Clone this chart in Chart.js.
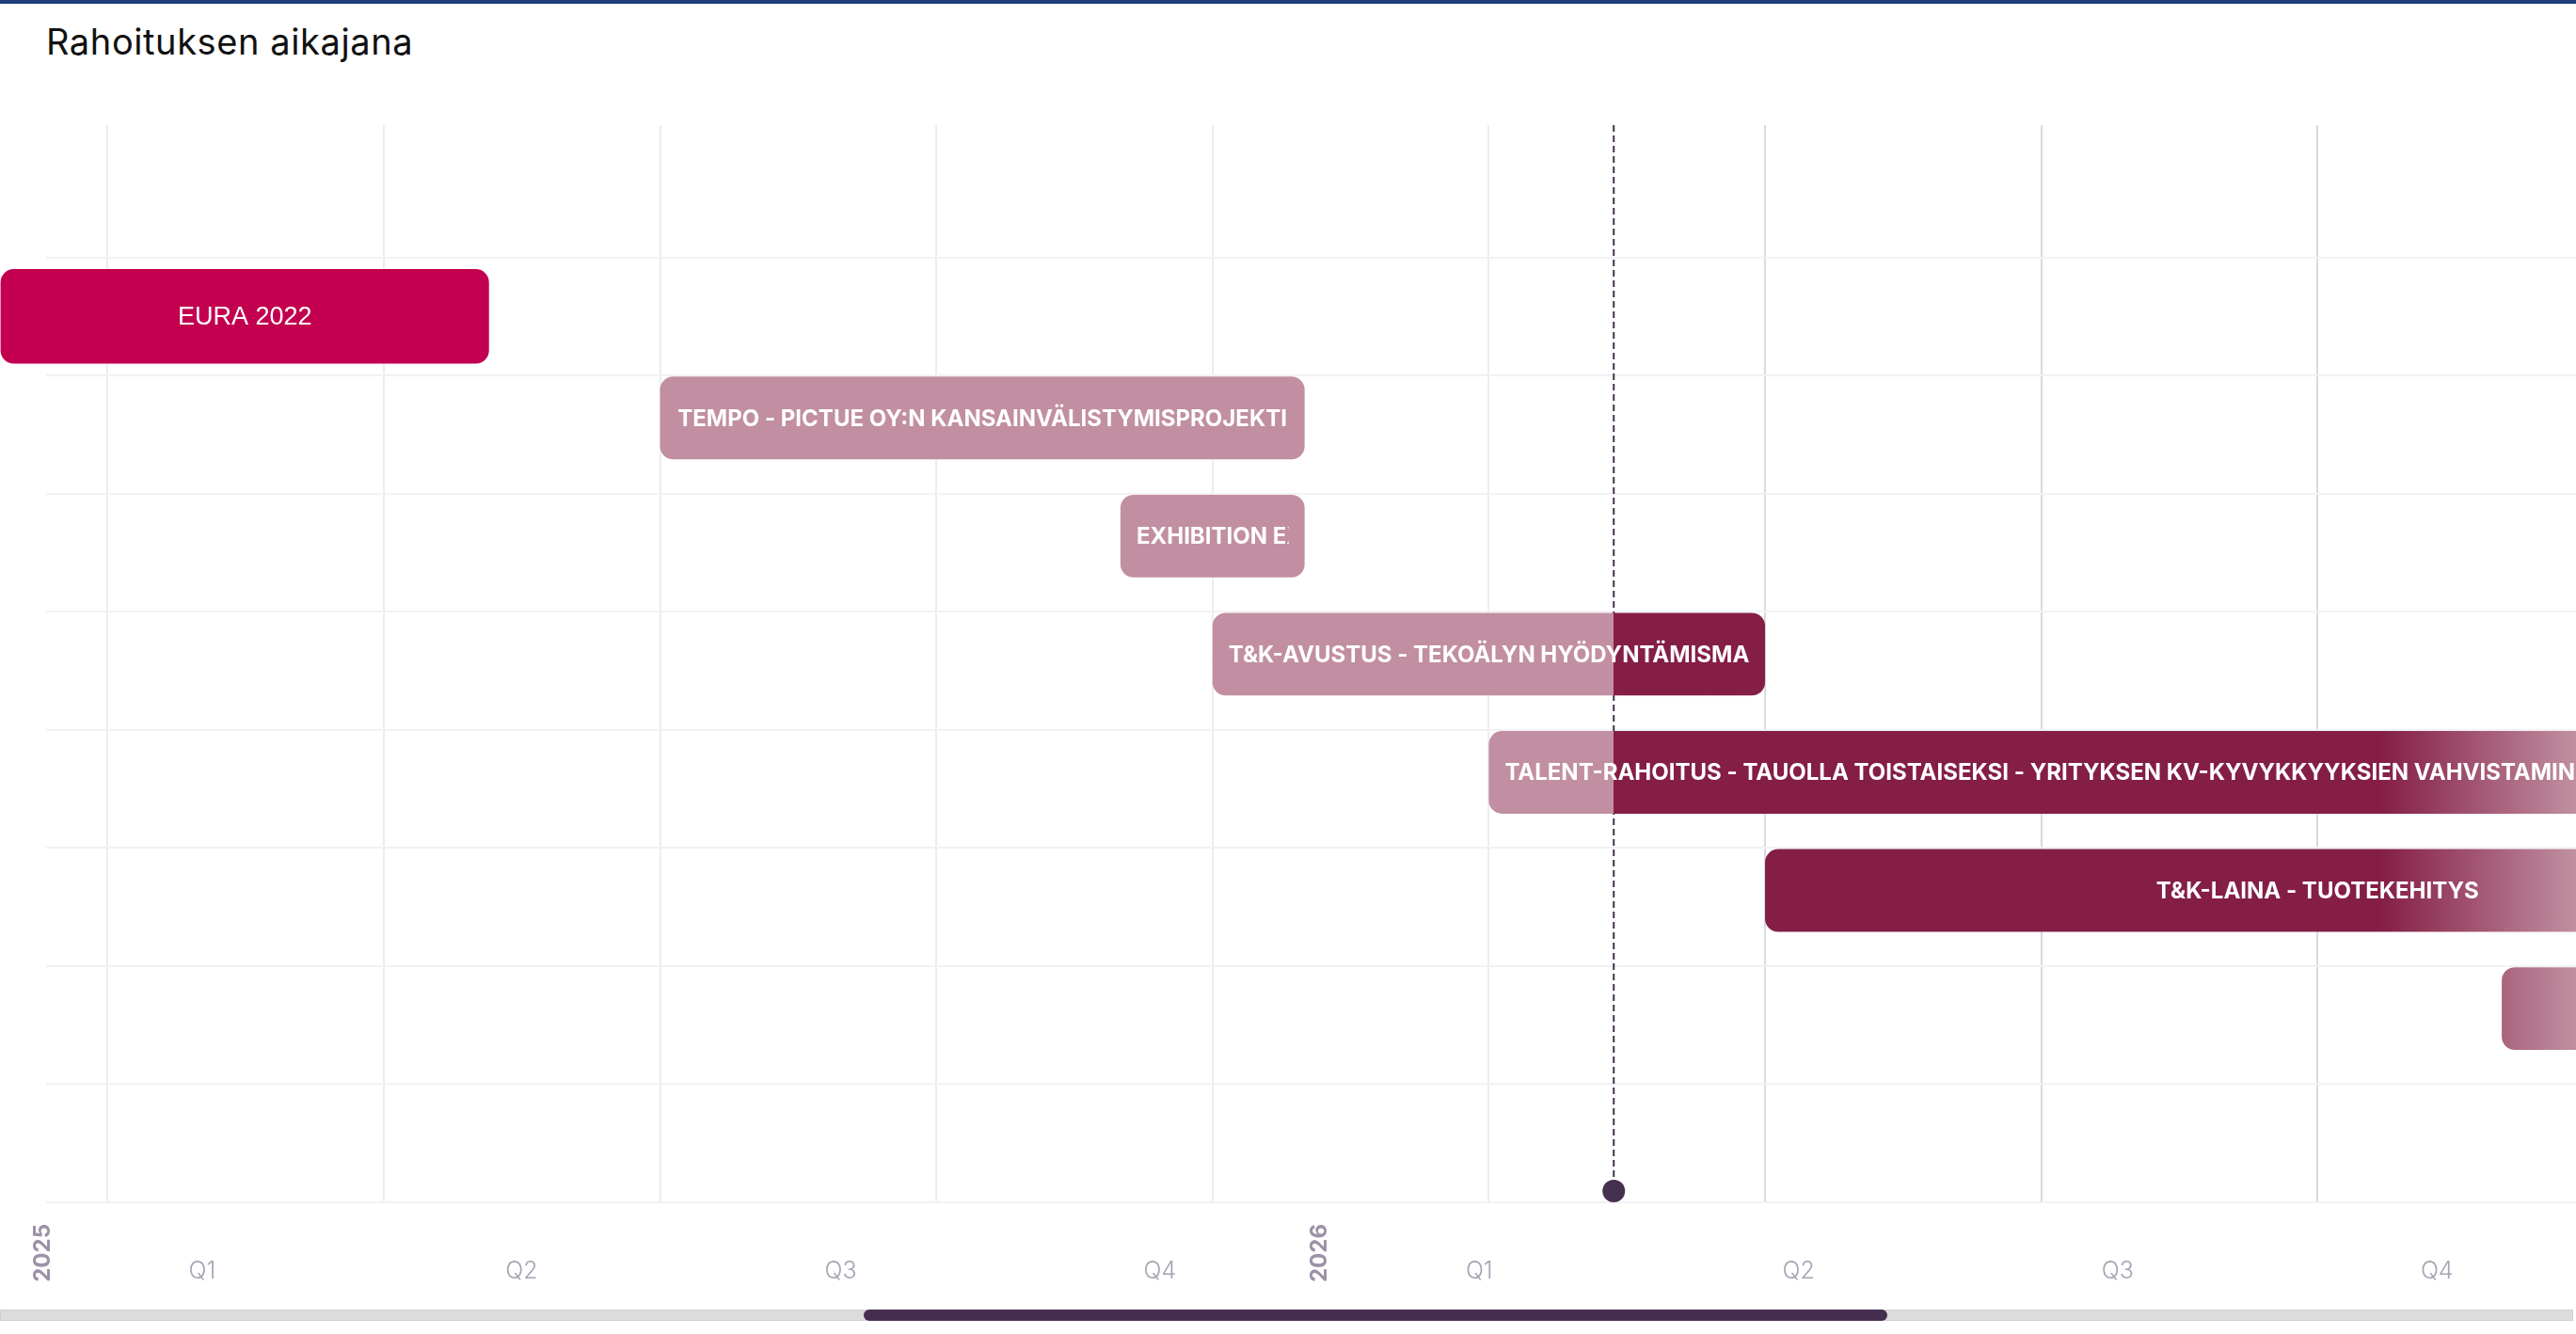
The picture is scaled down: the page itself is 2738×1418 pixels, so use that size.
<!DOCTYPE html>
<html>
<head>
<meta charset="utf-8">
<script src="https://cdn.jsdelivr.net/npm/chart.js@4.4.1/dist/chart.umd.min.js"></script>
<style>
html,body{margin:0;padding:0;background:#fff;width:2738px;height:1418px;overflow:hidden;}
#topbar{position:absolute;left:0;top:0;width:2738px;height:4px;background:#1f3d7c;}
#title{position:absolute;left:49px;top:21px;font-family:Inter,"Noto Sans",sans-serif;font-size:38px;line-height:46px;letter-spacing:0.6px;color:#111;font-weight:400;}
#wrap{position:absolute;left:0;top:133px;width:2738px;height:1235px;}
#track{position:absolute;left:0;top:1392px;width:2735px;height:12px;background:#dcdcdc;border:1px solid #cfcfcf;box-sizing:border-box;}
#thumb{position:absolute;left:918px;top:1392px;width:1088px;height:12px;background:#452e4f;border-radius:6px;}
</style>
</head>
<body>
<div id="topbar"></div>
<div id="title">Rahoituksen aikajana</div>
<div id="wrap"><canvas id="c"></canvas></div>
<div id="track"></div>
<div id="thumb"></div>
<script>
// ---- data ----
const rowLabels = [
  '',
  'EURA 2022',
  'TEMPO - PICTUE OY:N KANSAINVÄLISTYMISPROJEKTI',
  'EXHIBITION EXPO',
  'T&K-AVUSTUS - TEKOÄLYN HYÖDYNTÄMISMAHDOLLISUUDET',
  'TALENT-RAHOITUS - TAUOLLA TOISTAISEKSI - YRITYKSEN KV-KYVYKKYYKSIEN VAHVISTAMINEN',
  'T&K-LAINA - TUOTEKEHITYS',
  '',
  ''
];
const startDates = [null, '2024-08-27', '2025-04-01', '2025-09-01', '2025-10-01', '2026-01-01', '2026-04-01', '2026-12-01', null];
const endDates   = [null, '2025-02-05', '2025-11-01', '2025-11-01', '2026-04-01', '2026-12-31', '2027-04-01', '2027-09-30', null];
const highlightRows = [1];
const todayDate = '2026-02-11';
const gridAxisStart = '2024-09-11';
const labelAxisStart = '2025-01-02';
const axisEnd = '2026-12-26';
const quarterLabels = ['Q1', 'Q2', 'Q3', 'Q4', 'Q1', 'Q2', 'Q3', 'Q4'];
const yearLabels = ['2025', '2026'];

// ---- helpers ----
function toM(s) {
  const [y, m, d] = s.split('-').map(Number);
  const dim = new Date(y, m, 0).getDate();
  return (y - 2025) * 12 + (m - 1) + (d - 1) / dim;
}
const todayM = toM(todayDate);
const startM = startDates.map(s => s ? toM(s) : null);
const endM = endDates.map(s => s ? toM(s) : null);
const mainData = rowLabels.map((_, i) => (startM[i] !== null && !highlightRows.includes(i)) ? [startM[i], endM[i]] : null);
const euraData = rowLabels.map((_, i) => highlightRows.includes(i) ? [startM[i], endM[i]] : null);
const yearTickValues = yearLabels.map((_, i) => i * 12);
const quarterTickValues = quarterLabels.map((_, i) => i * 3 + 1.5);

const PAST = '#c18fa1';
const FUTURE = '#841e45';
const FADE = 208;

function mainColor(ctx) {
  const chart = ctx.chart;
  const xs = chart.scales.x;
  if (!chart.chartArea || !xs) return PAST;
  const w = chart.width;
  const g = chart.ctx.createLinearGradient(0, 0, w, 0);
  const t = Math.min(Math.max(xs.getPixelForValue(todayM) / w, 0), 1);
  const f = Math.max((w - FADE) / w, t);
  g.addColorStop(0, PAST);
  g.addColorStop(t, PAST);
  g.addColorStop(t, FUTURE);
  g.addColorStop(f, FUTURE);
  g.addColorStop(1, PAST);
  return g;
}

const todayPlugin = {
  id: 'todayLine',
  beforeDatasetsDraw(chart) {
    const c = chart.ctx, xs = chart.scales.x, a = chart.chartArea;
    const x = xs.getPixelForValue(todayM);
    c.save();
    c.strokeStyle = '#46304f';
    c.lineWidth = 2;
    c.setLineDash([7, 4]);
    c.beginPath();
    c.moveTo(x, xs.top);
    c.lineTo(x, a.bottom - 12);
    c.stroke();
    c.setLineDash([]);
    c.fillStyle = '#46304f';
    c.beginPath();
    c.arc(x, a.bottom - 12, 12, 0, Math.PI * 2);
    c.fill();
    c.restore();
  }
};

const yearPlugin = {
  id: 'yearLabels',
  afterDraw(chart) {
    const c = chart.ctx, xs = chart.scales.xq, a = chart.chartArea;
    c.save();
    c.font = '700 24px Inter, "Noto Sans", sans-serif';
    c.fillStyle = '#9c92a7';
    c.textAlign = 'right';
    c.textBaseline = 'middle';
    yearLabels.forEach((lab, i) => {
      const x = xs.getPixelForValue(yearTickValues[i]);
      c.save();
      c.translate(x, a.bottom + 23);
      c.rotate(-Math.PI / 2);
      c.fillText(lab, 0, 0);
      c.restore();
    });
    c.restore();
  }
};

const labelPlugin = {
  id: 'barLabels',
  afterDatasetsDraw(chart) {
    const c = chart.ctx;
    [0, 1].forEach(di => {
      const meta = chart.getDatasetMeta(di);
      meta.data.forEach((el, i) => {
        if (!chart.data.datasets[di].data[i]) return;
        const text = rowLabels[i];
        if (!text) return;
        const p = el.getProps(['x', 'base', 'y', 'height'], true);
        const left = Math.min(p.x, p.base), right = Math.max(p.x, p.base);
        const pad = 17;
        c.save();
        c.font = di === 0 ? '700 24px Inter, "Noto Sans", sans-serif' : '400 27px "Liberation Sans", Arial, sans-serif';
        c.fillStyle = '#ffffff';
        c.textBaseline = 'middle';
        const tw = c.measureText(text).width;
        const avail = right - left - 2 * pad;
        c.beginPath();
        c.rect(left + pad, p.y - p.height / 2, avail, p.height);
        c.clip();
        if (tw <= avail) {
          c.textAlign = 'center';
          c.fillText(text, (left + right) / 2, p.y + 1);
        } else {
          c.textAlign = 'left';
          c.fillText(text, left + pad, p.y + 1);
        }
        c.restore();
      });
    });
  }
};

const gridStart = toM(gridAxisStart), labelStart = toM(labelAxisStart), endVal = toM(axisEnd);
const quarterLines = [];
for (let v = Math.ceil(gridStart / 3) * 3; v <= endVal; v += 3) quarterLines.push(v);

new Chart(document.getElementById('c'), {
  type: 'bar',
  data: {
    labels: rowLabels,
    datasets: [
      { label: 'main', data: mainData, grouped: true, categoryPercentage: 0.56, barPercentage: 2.5,
        backgroundColor: mainColor, borderRadius: 14, borderSkipped: false, borderWidth: 0, clip: false, xAxisID: 'x', yAxisID: 'y' },
      { label: 'highlight', data: euraData, grouped: false, categoryPercentage: 0.8, barPercentage: 1,
        backgroundColor: '#c2004f', borderRadius: 14, borderSkipped: false, borderWidth: 0, clip: false, xAxisID: 'x', yAxisID: 'y' },
      { label: 'spacer', data: rowLabels.map(() => null), grouped: true, xAxisID: 'x', yAxisID: 'y' }
    ]
  },
  options: {
    indexAxis: 'y',
    responsive: true,
    maintainAspectRatio: false,
    animation: false,
    events: [],
    layout: { padding: 0 },
    plugins: { legend: { display: false }, tooltip: { enabled: false } },
    scales: {
      x: {
        type: 'linear', position: 'top', min: gridStart, max: endVal,
        afterBuildTicks: s => { s.ticks = quarterLines.map(v => ({ value: v })); },
        ticks: { display: false },
        grid: { color: c => (c.tick && c.tick.value > todayM) ? '#d9d9e2' : '#ececf1', lineWidth: 2, drawTicks: true, tickLength: 15 },
        border: { display: false }
      },
      xq: {
        type: 'linear', position: 'bottom', min: labelStart, max: endVal,
        afterBuildTicks: s => { s.ticks = quarterTickValues.map(v => ({ value: v })); },
        afterFit: s => { s.height = 90; },
        ticks: { autoSkip: false, minRotation: 0, maxRotation: 0, padding: 58, color: '#a9a1b4',
          font: { family: 'Inter', size: 25, weight: '300' }, callback: (v, i) => quarterLabels[i] },
        grid: { display: false, drawTicks: false },
        border: { display: false }
      },
      y: {
        type: 'category', offset: true,
        ticks: { display: false },
        afterFit: s => { s.width = 49; },
        grid: { offset: true, drawTicks: false, lineWidth: 2, color: c => c.index === 0 ? 'rgba(0,0,0,0)' : '#f2f2f5' },
        border: { display: false }
      }
    }
  },
  plugins: [todayPlugin, labelPlugin, yearPlugin]
});
</script>
</body>
</html>
